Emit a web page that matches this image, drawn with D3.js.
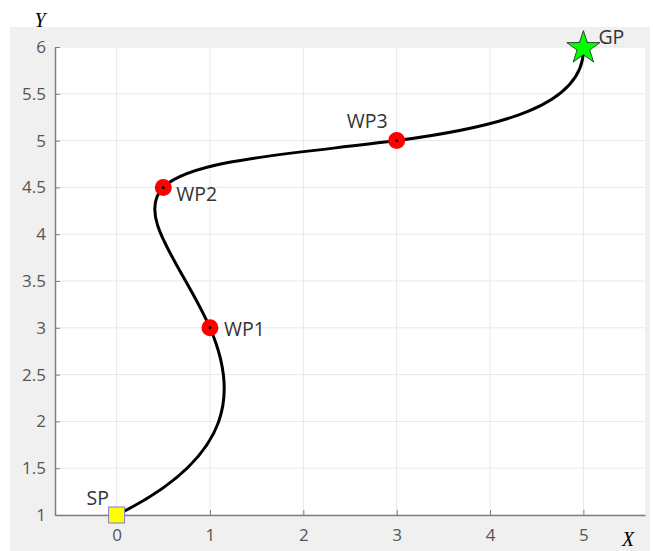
<!DOCTYPE html>
<html>
<head>
<meta charset="utf-8">
<script src="https://cdn.jsdelivr.net/npm/d3@7"></script>
<style>
  body { margin: 0; background: #fff; }
  text { font-family: "Open Sans", "Noto Sans", sans-serif; }
</style>
</head>
<body>
<script>
const width = 653;
const height = 551;
const margin = { left: 55, right: 8, top: 47, bottom: 36 };

// waypoints of the path
const pointNames = ["SP", "WP1", "WP2", "WP3", "GP"];
const pointX = [0, 1, 0.5, 3, 5];
const pointY = [1, 3, 4.5, 5, 6];

const xTicks = [0, 1, 2, 3, 4, 5];
const yTicks = [1, 1.5, 2, 2.5, 3, 3.5, 4, 4.5, 5, 5.5, 6];
const xDomain = [-0.66, 5.66];
const yDomain = [1, 6];

const textColor = "#333";
const tickColor = "#555";
const axisColor = "#7f7f7f";
const gridColor = "#e8e8e8";

const svg = d3.select("body")
    .append("svg")
    .attr("width", width)
    .attr("height", height);

// figure background
svg.append("rect")
    .attr("x", 10).attr("y", 27)
    .attr("width", 640).attr("height", 524)
    .attr("fill", "#f0f0f0");

const x = d3.scaleLinear().domain(xDomain).range([margin.left, width - margin.right]);
const y = d3.scaleLinear().domain(yDomain).range([height - margin.bottom, margin.top]);

svg.append("rect")
    .attr("x", margin.left).attr("y", margin.top)
    .attr("width", width - margin.right - margin.left)
    .attr("height", height - margin.bottom - margin.top)
    .attr("fill", "#fff");

// grid
svg.append("g").selectAll("line").data(xTicks).join("line")
    .attr("x1", d => x(d)).attr("x2", d => x(d))
    .attr("y1", y(yDomain[0])).attr("y2", y(yDomain[1]))
    .attr("stroke", gridColor);
svg.append("g").selectAll("line").data(yTicks).join("line")
    .attr("x1", x(xDomain[0])).attr("x2", x(xDomain[1]))
    .attr("y1", d => y(d)).attr("y2", d => y(d))
    .attr("stroke", gridColor);

// axes, ticks pointing inwards
const fmt = d3.format("~g");
const xAxis = svg.append("g")
    .attr("transform", `translate(0,${y(yDomain[0])})`)
    .call(d3.axisBottom(x).tickValues(xTicks).tickFormat(fmt).tickSizeInner(-5).tickSizeOuter(0).tickPadding(14));
const yAxis = svg.append("g")
    .attr("transform", `translate(${x(xDomain[0])},0)`)
    .call(d3.axisLeft(y).tickValues(yTicks).tickFormat(fmt).tickSizeInner(-5).tickSizeOuter(0).tickPadding(9));

[xAxis, yAxis].forEach(g => {
    g.select(".domain").attr("stroke", axisColor).attr("stroke-width", 1.5);
    g.selectAll(".tick line").attr("stroke", axisColor);
    g.selectAll(".tick text")
        .attr("fill", tickColor)
        .style("font-size", "17px")
        .style("font-family", '"Open Sans", sans-serif');
});

// axis names
svg.append("text")
    .attr("x", 40).attr("y", 27)
    .attr("text-anchor", "middle")
    .style("font-family", '"Liberation Serif", serif')
    .style("font-style", "italic")
    .style("font-size", "20px")
    .text("Y");
svg.append("text")
    .attr("x", 628).attr("y", 546)
    .attr("text-anchor", "middle")
    .style("font-family", '"Liberation Serif", serif')
    .style("font-style", "italic")
    .style("font-size", "20px")
    .text("X");

// not-a-knot cubic spline through the points (uniform parameter), like matlab spline()
function curveSpline(context) {
    let xs, ys;
    function solveM(p) {
        const n = p.length;
        const A = [], b = [];
        for (let i = 0; i < n; i++) { A.push(new Array(n).fill(0)); b.push(0); }
        A[0][0] = 1; A[0][1] = -2; A[0][2] = 1;
        for (let i = 1; i < n - 1; i++) {
            A[i][i - 1] = 1; A[i][i] = 4; A[i][i + 1] = 1;
            b[i] = 6 * (p[i + 1] - 2 * p[i] + p[i - 1]);
        }
        A[n - 1][n - 3] = 1; A[n - 1][n - 2] = -2; A[n - 1][n - 1] = 1;
        // gaussian elimination
        for (let c = 0; c < n; c++) {
            let piv = c;
            for (let r = c + 1; r < n; r++) if (Math.abs(A[r][c]) > Math.abs(A[piv][c])) piv = r;
            [A[c], A[piv]] = [A[piv], A[c]];
            [b[c], b[piv]] = [b[piv], b[c]];
            for (let r = c + 1; r < n; r++) {
                const f = A[r][c] / A[c][c];
                for (let k = c; k < n; k++) A[r][k] -= f * A[c][k];
                b[r] -= f * b[c];
            }
        }
        const M = new Array(n).fill(0);
        for (let r = n - 1; r >= 0; r--) {
            let s = b[r];
            for (let k = r + 1; k < n; k++) s -= A[r][k] * M[k];
            M[r] = s / A[r][r];
        }
        return M;
    }
    return {
        areaStart() {}, areaEnd() {},
        lineStart() { xs = []; ys = []; },
        point(px, py) { xs.push(+px); ys.push(+py); },
        lineEnd() {
            const n = xs.length;
            context.moveTo(xs[0], ys[0]);
            if (n < 4) { for (let i = 1; i < n; i++) context.lineTo(xs[i], ys[i]); return; }
            const Mx = solveM(xs), My = solveM(ys);
            for (let i = 0; i < n - 1; i++) {
                const d0x = (xs[i + 1] - xs[i]) - (2 * Mx[i] + Mx[i + 1]) / 6;
                const d1x = (xs[i + 1] - xs[i]) + (Mx[i] + 2 * Mx[i + 1]) / 6;
                const d0y = (ys[i + 1] - ys[i]) - (2 * My[i] + My[i + 1]) / 6;
                const d1y = (ys[i + 1] - ys[i]) + (My[i] + 2 * My[i + 1]) / 6;
                context.bezierCurveTo(
                    xs[i] + d0x / 3, ys[i] + d0y / 3,
                    xs[i + 1] - d1x / 3, ys[i + 1] - d1y / 3,
                    xs[i + 1], ys[i + 1]);
            }
        }
    };
}

const points = pointNames.map((name, i) => ({ name, x: pointX[i], y: pointY[i] }));

const line = d3.line()
    .x(d => x(d.x))
    .y(d => y(d.y))
    .curve(curveSpline);

svg.append("path")
    .datum(points)
    .attr("d", line)
    .attr("fill", "none")
    .attr("stroke", "#000")
    .attr("stroke-width", 3);

// red waypoint markers
const wps = points.slice(1);
svg.append("g").selectAll("circle").data(wps).join("circle")
    .attr("cx", d => x(d.x)).attr("cy", d => y(d.y))
    .attr("r", d => d.name === "GP" ? 7 : 8.5)
    .attr("fill", "#ff0000");
svg.append("g").selectAll("circle").data(wps.slice(0, 3)).join("circle")
    .attr("cx", d => x(d.x)).attr("cy", d => y(d.y))
    .attr("r", 1.5)
    .attr("fill", "#000");

// start: yellow square
const sp = points[0];
svg.append("rect")
    .attr("x", x(sp.x) - 8).attr("y", y(sp.y) - 8)
    .attr("width", 16).attr("height", 16)
    .attr("fill", "#ffff00")
    .attr("stroke", "#7b7bdc")
    .attr("stroke-width", 1);

// goal: green star
const gp = points[points.length - 1];
const star = d3.symbol().type(d3.symbolStar).size(340);
svg.append("path")
    .attr("d", star)
    .attr("transform", `translate(${x(gp.x)},${y(gp.y) + 1})`)
    .attr("fill", "#00ff00")
    .attr("stroke", "#2b4a2b")
    .attr("stroke-width", 1);

// point labels
const labelOffset = {
    SP: [-30, -10], WP1: [14, 8], WP2: [13, 14], WP3: [-50, -13], GP: [15, -3]
};
svg.append("g").selectAll("text").data(points).join("text")
    .attr("x", d => x(d.x) + labelOffset[d.name][0])
    .attr("y", d => y(d.y) + labelOffset[d.name][1])
    .attr("fill", textColor)
    .style("font-size", "19.5px")
    .text(d => d.name);
</script>
</body>
</html>
